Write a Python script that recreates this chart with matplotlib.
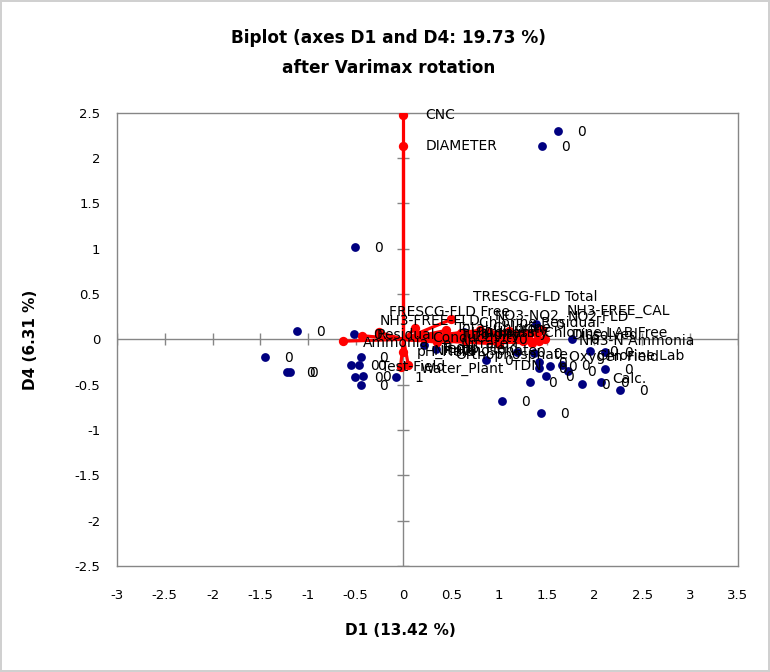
import matplotlib
matplotlib.use("Agg")
import matplotlib.pyplot as plt

# observations (D1, D4)
obs_x = [1.62, 1.45, -0.51, -1.11, -1.45, -1.22, -1.19, -0.52, -0.45, -0.55, -0.47, -0.51,
         -0.42, -0.45, -0.08, 1.39, 1.76, 1.95, 2.11, 1.19, 1.37, 1.42, 1.42, 1.53, 1.49,
         1.66, 1.72, 2.11, 1.32, 1.87, 2.07, 2.27, 1.03, 1.44, 0.86, 0.34, 0.63, 1.00, 0.21]
obs_y = [2.30, 2.14, 1.02, 0.09, -0.19, -0.36, -0.36, 0.06, -0.19, -0.28, -0.28, -0.42,
         -0.40, -0.50, -0.42, 0.17, 0.00, -0.13, -0.14, -0.14, -0.15, -0.25, -0.32, -0.29, -0.40,
         -0.28, -0.35, -0.33, -0.47, -0.49, -0.47, -0.56, -0.68, -0.81, -0.23, -0.11, 0.08, 0.00, -0.06]
obs_lab = ["0"] * len(obs_x)
obs_lab[14] = "1"

# variables (loadings after Varimax)
var_names = ["CNC", "DIAMETER", "TRESCG-FLD Total", "FRESCG-FLD Free", "NH3-FREE-FLD",
             "Residual", "Ammonia", "Test-Field", "Water_Plant", "TDN", "Nitrite",
             "NO3-NO2", "Chlorine Residual-", "NH3-FREE_CAL", "NO2-FLD", "Chlorine LAB Free",
             "Dissolved", "NH3-N Ammonia", "Oxygen Field", "Chlorine Lab", "Calc.",
             "Temp_Field", "Hardness", "Alkalinity", "Conductivity", "Total Chlorine",
             "Phosphate", "Turbidity", "Iron", "Orthophosphate", "pH_Field", "Nitrate"]
var_x = [0.00, 0.00, 0.50, -0.26, 0.12, -0.43, -0.63, -0.03, 0.05, 1.00, 0.00,
         0.90, 1.05, 1.45, 1.40, 1.30, 1.20, 1.48, 1.35, 1.42, 1.25,
         0.30, 0.60, 0.75, 0.20, 0.45, 0.95, 0.80, 1.10, 0.65, 0.35, 0.55]
var_y = [2.48, 2.13, 0.22, 0.08, 0.12, 0.04, -0.02, -0.30, -0.28, -0.05, -0.14,
         0.08, 0.05, 0.10, 0.06, 0.04, 0.02, 0.00, -0.04, -0.02, -0.02,
         0.03, 0.07, 0.02, 0.05, 0.10, 0.00, 0.10, 0.09, -0.02, -0.03, 0.01]
# label offsets in pixels (layout only)
var_off = [(22, 0), (22, 0), (22, 22), (10, 20), (-35, 7), (14, 1), (20, -2), (-20, 0),
           (12, -4), (13, -22), (30, 1), (5, 16), (-25, 12), (25, 19), (30, 17), (16, 3),
           (54, 3), (34, -2), (37, -14), (58, -15), (89, -38),
           (10, -12), (10, 0), (10, 5), (10, -3), (10, 2), (-30, -12), (-20, -5),
           (10, 2), (-10, -14), (-20, -10), (5, -6)]

xticks = [-3, -2.5, -2, -1.5, -1, -0.5, 0, 0.5, 1, 1.5, 2, 2.5, 3, 3.5]
yticks = [-2.5, -2, -1.5, -1, -0.5, 0, 0.5, 1, 1.5, 2, 2.5]

grey = "#868686"
fig = plt.figure(figsize=(7.7, 6.72), dpi=100, edgecolor="#d0d0d0", linewidth=1.5)
ax = fig.add_axes([0.152, 0.158, 0.806, 0.674])

ax.axhline(0, color=grey, lw=1, zorder=1)
ax.axvline(0, color=grey, lw=1, zorder=1)
ax.plot(xticks, [0] * len(xticks), ls="none", marker="|", ms=9, mew=1, color=grey, zorder=1)
ax.plot([0] * len(yticks), yticks, ls="none", marker="_", ms=9, mew=1, color=grey, zorder=1)

ax.scatter(obs_x, obs_y, s=40, color="#000080", zorder=3, linewidths=0)
for x, y, t in zip(obs_x, obs_y, obs_lab):
    ax.annotate(t, (x, y), xytext=(19, -1), textcoords="offset pixels",
                va="center", ha="left", fontsize=10, zorder=5)

for x, y in zip(var_x, var_y):
    ax.plot([0, x], [0, y], color="red", lw=2.3, zorder=4)
ax.scatter(var_x, var_y, s=45, color="red", zorder=4, linewidths=0)
for x, y, t, (dx, dy) in zip(var_x, var_y, var_names, var_off):
    ax.annotate(t, (x, y), xytext=(dx, dy), textcoords="offset pixels",
                va="center", ha="left", fontsize=10, zorder=5)

ax.set_xlim(-3, 3.5)
ax.set_ylim(-2.5, 2.5)
ax.set_xticks(xticks)
ax.set_yticks(yticks)
ax.set_xticklabels([f"{v:g}" for v in xticks])
ax.set_yticklabels([f"{v:g}" for v in yticks])
ax.tick_params(length=0, labelsize=9.5)
ax.tick_params(axis="x", pad=17)
ax.tick_params(axis="y", pad=12)
for s in ax.spines.values():
    s.set_color(grey)
    s.set_linewidth(1)

fig.text(0.505, 0.944, "Biplot (axes D1 and D4: 19.73 %)", ha="center", va="center",
         fontsize=12.2, fontweight="bold")
fig.text(0.505, 0.899, "after Varimax rotation", ha="center", va="center",
         fontsize=12.2, fontweight="bold")
fig.text(0.52, 0.062, "D1 (13.42 %)", ha="center", va="center", fontsize=11, fontweight="bold")
fig.text(0.04, 0.494, "D4 (6.31 %)", ha="center", va="center", rotation=90,
         fontsize=11, fontweight="bold")

fig.savefig("out.png", dpi=100, edgecolor=fig.get_edgecolor())
